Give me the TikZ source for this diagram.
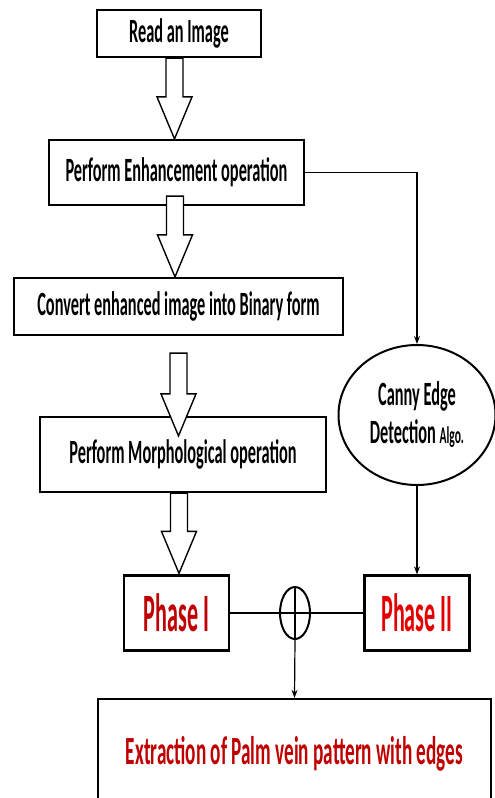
\documentclass[tikz,border=0pt]{standalone}
\usepackage{fontspec}
\setmainfont{Carlito}
\usepackage{tikz}
\usetikzlibrary{arrows.meta}
\usetikzlibrary{calc}
\usetikzlibrary{shapes.geometric}

\definecolor{phasered}{RGB}{192,0,0}
\definecolor{phasebright}{RGB}{228,0,0}
\newcommand{\narrow}[2][0.48]{\scalebox{#1}[1]{#2}}
\tikzset{
  box/.style={draw,line width=2.2pt,inner sep=0pt,font=\fontsize{34}{38}\selectfont\bfseries},
  phasebox/.style={box,minimum width=105pt,minimum height=75pt,font=\fontsize{54}{58}\selectfont\bfseries},
  fat/.style={draw,line width=1.4pt,fill=white,line join=miter},
  link/.style={line width=1.2pt},
  tip/.style={link,-{Stealth[length=8pt,width=6pt]}},
}
% hollow block arrow: from node, to node, shift of the top, shift of the tip
\newcommand{\fatarrow}[4]{%
  \draw[fat] let \p1=($(#1.south)+(0,#3)$), \p2=($(#2.north)+(#4)$) in
    ({\x2-8.5pt},\y1) -- ({\x2-8.5pt},{\y2+42pt}) -- ({\x2-17.5pt},{\y2+42pt}) -- (\x2,\y2)
    -- ({\x2+17.5pt},{\y2+42pt}) -- ({\x2+8.5pt},{\y2+42pt}) -- ({\x2+8.5pt},\y1) -- cycle;}

\begin{document}
\begin{tikzpicture}[x=1pt,y=-1pt]
  \useasboundingbox (0,0) rectangle (495,798);
  % left column
  \node[box,minimum width=164pt,minimum height=47pt] (read) at (179,33.5) {\narrow{Read an Image}};
  \node[box,minimum width=255pt,minimum height=65pt] (enh) at (176.5,172.5) {\narrow{Perform Enhancement operation}};
  \node[box,minimum width=329pt,minimum height=57pt] (conv) at (178.5,306.5) {\narrow{Convert enhanced image into Binary form}};
  \node[box,minimum width=286pt,minimum height=75pt] (morph) at (183,454.5) {\narrow{Perform Morphological operation}};
  \node[phasebox,text=phasered] (phase1) at (176.5,613) {\narrow[0.41]{Phase I}};
  % right column
  \node[ellipse,draw,line width=2pt,minimum width=157pt,minimum height=140pt,inner sep=0pt,
        align=center,font=\fontsize{34}{38}\selectfont\bfseries] (canny) at (417,415)
        {\narrow{Canny Edge}\\\narrow{Detection {\fontsize{24}{28}\selectfont Algo.}}};
  \node[phasebox,text=phasebright] (phase2) at (417,613) {\narrow[0.41]{Phase II}};
  % merge and result
  \node[ellipse,draw,line width=2pt,minimum width=30pt,minimum height=52pt,inner sep=0pt] (plus) at (295,613) {};
  \node[box,minimum width=393pt,minimum height=110pt,text=phasered,font=\fontsize{40}{44}\selectfont\bfseries] (final) at (294.5,754) {\narrow{Extraction of Palm vein pattern with edges}};

  \fatarrow{read}{enh}{0}{-2,0}
  \fatarrow{enh}{conv}{-10}{-3.5,0}
  \fatarrow{conv}{morph}{17}{-4.5,20}
  \fatarrow{morph}{phase1}{0}{2.5,-1}

  \draw[tip] (enh.east) -| (canny.north);
  \draw[tip] (canny.south) -- (phase2.north);
  \draw[link] (phase1.east) -- (plus.west) -- (plus.east) -- (phase2.west);
  \draw[link] (plus.north) -- (plus.south);
  \draw[tip] (plus.south) -- (final.north);
\end{tikzpicture}
\end{document}
